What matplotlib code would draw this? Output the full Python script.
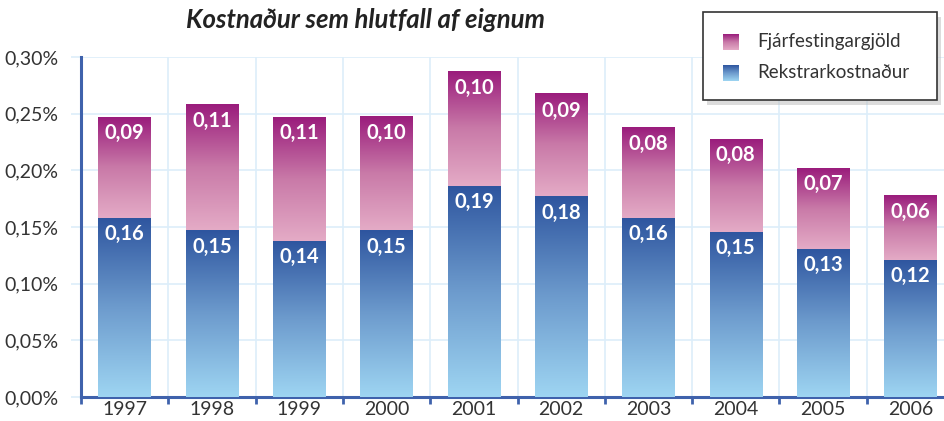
import numpy as np
import matplotlib
matplotlib.use("Agg")
import matplotlib.pyplot as plt
from matplotlib.colors import LinearSegmentedColormap
from matplotlib.patches import Rectangle

years = ["1997", "1998", "1999", "2000", "2001", "2002", "2003", "2004", "2005", "2006"]
rekstur = [0.158, 0.147, 0.138, 0.147, 0.186, 0.177, 0.158, 0.146, 0.131, 0.121]
fjarfesting = [0.089, 0.111, 0.109, 0.100, 0.101, 0.090, 0.080, 0.082, 0.071, 0.057]
rekstur_labels = ["0,16", "0,15", "0,14", "0,15", "0,19", "0,18", "0,16", "0,15", "0,13", "0,12"]
fjarfesting_labels = ["0,09", "0,11", "0,11", "0,10", "0,10", "0,09", "0,08", "0,08", "0,07", "0,06"]
yticks = [0.0, 0.05, 0.10, 0.15, 0.20, 0.25, 0.30]

plt.rcParams["font.family"] = ["Lato", "DejaVu Sans"]

blue_cmap = LinearSegmentedColormap.from_list("blue", ["#9ed5f2", "#6d9bcd", "#2e559f"])
pink_cmap = LinearSegmentedColormap.from_list("pink", ["#e4abc6", "#c97aa8", "#9a1c7c"])
grad = np.linspace(0, 1, 256).reshape(-1, 1)

axis_blue = "#3f62ac"
grid_col = "#ddeefa"


def gradient_bar(ax, x, bottom, height, width, cmap):
    ax.imshow(grad, cmap=cmap, origin="lower", aspect="auto", zorder=3,
              extent=(x - width / 2, x + width / 2, bottom, bottom + height))


fig = plt.figure(figsize=(9.44, 4.21), dpi=100)
ax = fig.add_axes([81 / 944, 24 / 421, 873 / 944, 340 / 421])

x = np.arange(len(years))
w = 0.6
for i in range(len(years)):
    gradient_bar(ax, x[i], 0, rekstur[i], w, blue_cmap)
    gradient_bar(ax, x[i], rekstur[i], fjarfesting[i], w, pink_cmap)
    ax.text(x[i], rekstur[i] - 0.0055, rekstur_labels[i], ha="center", va="top",
            color="white", fontsize=14.5, fontweight="bold", zorder=4)
    top = rekstur[i] + fjarfesting[i]
    ax.text(x[i], top - 0.0055, fjarfesting_labels[i], ha="center", va="top",
            color="white", fontsize=14.5, fontweight="bold", zorder=4)

ax.set_xlim(-0.5, len(years) - 0.5)
ax.set_ylim(0, 0.30)
ax.set_xticks(x)
ax.set_xticklabels(years)
ax.set_xticks(np.arange(len(years) + 1) - 0.5, minor=True)
ax.set_yticks(yticks)
ax.set_yticklabels([f"{v:.2f}%".replace(".", ",") for v in yticks])
ax.tick_params(axis="x", which="major", length=0, labelsize=14, labelcolor="#333333", pad=3)
ax.tick_params(axis="x", which="minor", length=5, width=2, color=axis_blue)
ax.tick_params(axis="y", length=7, width=1.2, color=grid_col, labelsize=14,
               labelcolor="#333333", pad=9)
ax.grid(True, which="minor", axis="x", color=grid_col, lw=1.2, zorder=0)
ax.grid(True, which="major", axis="y", color=grid_col, lw=1.2, zorder=0)
ax.set_axisbelow(True)
for s in ["top", "right"]:
    ax.spines[s].set_visible(False)
for s in ["left", "bottom"]:
    ax.spines[s].set_color(axis_blue)
    ax.spines[s].set_linewidth(2.2)

fig.text(365 / 944, 1 - 20 / 421, "Kostnaður sem hlutfall af eignum", ha="center", va="center",
         fontsize=18.5, fontweight="bold", fontstyle="italic", color="#222222")

# legend box
lx0, ly0, lw, lh = 703 / 944, 1 - 100 / 421, 234 / 944, 88 / 421
fig.patches.append(Rectangle((lx0 + 0.004, ly0 - 0.012), lw, lh, transform=fig.transFigure,
                             facecolor="#bbbbbb", edgecolor="none", alpha=0.5, zorder=5))
fig.patches.append(Rectangle((lx0, ly0), lw, lh, transform=fig.transFigure,
                             facecolor="white", edgecolor="#333333", lw=1.2, zorder=6))
legend_items = [("Fjárfestingargjöld", pink_cmap, 42), ("Rekstrarkostnaður", blue_cmap, 73)]
for label, cmap, ypx in legend_items:
    sq = fig.add_axes([723 / 944, 1 - (ypx + 8) / 421, 16 / 944, 16 / 421], zorder=7)
    sq.imshow(grad, cmap=cmap, origin="lower", aspect="auto")
    sq.axis("off")
    fig.text(757 / 944, 1 - ypx / 421, label, ha="left", va="center", fontsize=13.5,
             color="#333333", zorder=7)

fig.savefig("out.png", dpi=100)
